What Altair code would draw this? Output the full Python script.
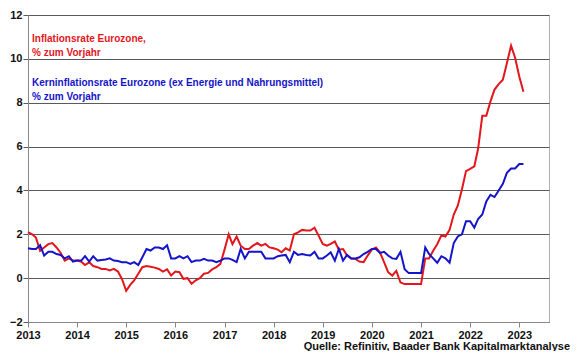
import altair as alt
import pandas as pd

# Monthly positions, Jan 2013 onwards (122 points)
n_points = 122
series_names = ["Inflationsrate Eurozone", "Kerninflationsrate Eurozone"]

headline = [
    2.1, 2.0, 1.85, 1.25, 1.4, 1.55, 1.6, 1.4, 1.15, 0.8, 0.9, 0.8, 0.8,
    0.75, 0.6, 0.72, 0.55, 0.5, 0.42, 0.42, 0.35, 0.42, 0.3, -0.05, -0.58,
    -0.3, -0.1, 0.2, 0.5, 0.55, 0.52, 0.48, 0.42, 0.3, 0.4, 0.12, 0.3,
    0.27, -0.03, 0.0, -0.26, -0.1, 0.0, 0.2, 0.24, 0.4, 0.5, 0.65, 1.3,
    2.0, 1.55, 1.9, 1.48, 1.33, 1.33, 1.48, 1.6, 1.48, 1.56, 1.4, 1.36,
    1.3, 1.18, 1.36, 1.26, 2.0, 2.09, 2.2, 2.17, 2.17, 2.3, 1.94, 1.56,
    1.48, 1.56, 1.67, 1.3, 1.33, 1.03, 0.9, 0.88, 0.76, 0.73, 1.03, 1.3,
    1.4, 1.18, 0.73, 0.27, 0.12, 0.33, -0.2, -0.27, -0.27, -0.27, -0.27, -0.27,
    0.9, 0.9, 1.25, 1.55, 1.95, 1.9, 2.2, 2.9, 3.3, 4.05, 4.88, 4.98,
    5.1, 5.9, 7.4, 7.4, 8.06, 8.6, 8.85, 9.05, 9.8, 10.6, 10.05, 9.2, 8.5,
]

core = [
    1.36, 1.33, 1.33, 1.5, 1.03, 1.2, 1.2, 1.1, 1.06,
    0.9, 1.0, 0.75, 0.8, 0.8, 1.0, 0.75, 1.0, 0.8, 0.83, 0.85, 0.9, 0.8,
    0.78, 0.73, 0.73, 0.65, 0.73, 0.6, 0.95,
    1.33, 1.26, 1.4, 1.4, 1.33, 1.5, 0.9, 0.9,
    1.0, 0.9, 1.0, 0.73, 0.8, 0.8, 0.88, 0.8, 0.8, 0.73, 0.8, 0.9,
    0.9, 0.83, 0.73, 1.33, 0.9, 1.2, 1.2, 1.2, 1.2, 0.9, 0.9, 0.9,
    1.0, 1.03, 1.06, 0.73, 1.2, 1.06, 1.1, 1.06, 1.03, 1.2, 0.9, 0.9,
    1.03, 1.18, 0.8, 1.33, 0.8, 1.06, 0.9, 0.9, 0.95, 1.1, 1.2, 1.33,
    1.33, 1.15, 1.2, 1.03, 0.9, 0.88, 1.2, 0.41, 0.23, 0.23, 0.23, 0.23,
    1.4, 1.1, 0.9, 0.7, 1.0, 0.9, 0.7, 1.6, 1.9, 2.0, 2.6, 2.6,
    2.3, 2.7, 2.9, 3.5, 3.8, 3.7, 4.0, 4.3, 4.8, 5.0, 5.0, 5.2, 5.2,
]

year_ticks = list(range(2013, 2024))
y_ticks = [-2, 0, 2, 4, 6, 8, 10, 12]

dates = pd.date_range("2013-01-01", periods=n_points, freq="MS").strftime("%Y-%m-%d").tolist()
df = pd.DataFrame({
    "date": dates + dates,
    "value": headline + core,
    "series": [series_names[0]] * n_points + [series_names[1]] * n_points,
})

FONT = "Liberation Sans"
RED = "#e3161c"
BLUE = "#1414c8"

lines = alt.Chart(df).mark_line(strokeWidth=2).encode(
    x=alt.X(
        "date:T",
        title=None,
        scale=alt.Scale(domain=[alt.DateTime(year=2013, month=1, date=1),
                                alt.DateTime(year=2023, month=8, date=10)]),
        axis=alt.Axis(
            values=[alt.DateTime(year=y, month=1, date=1) for y in year_ticks],
            format="%Y", grid=False, tickSize=5, labelPadding=2, labelFlush=False,
            domainColor="#888888", tickColor="#888888",
        ),
    ),
    y=alt.Y(
        "value:Q",
        title=None,
        scale=alt.Scale(domain=[-2, 12], nice=False, zero=False),
        axis=alt.Axis(values=y_ticks, grid=True, gridColor="#5a5a5a", gridWidth=1,
                      gridOpacity=1, tickSize=5, tickColor="#5a5a5a", labelPadding=1,
                      labelFlush=False, domainColor="#888888"),
    ),
    color=alt.Color("series:N", scale=alt.Scale(domain=series_names, range=[RED, BLUE]), legend=None),
    order=alt.Order("series:N", sort="descending"),
)


def label(txt, color, x, y, align="left", size=10, baseline="middle"):
    return alt.Chart(pd.DataFrame({"t": [txt]})).mark_text(
        font=FONT, fontSize=size, fontWeight="bold", color=color, align=align, baseline=baseline
    ).encode(text="t:N", x=alt.value(x), y=alt.value(y))


texts = [
    label("Inflationsrate Eurozone,", RED, 4, 24),
    label("% zum Vorjahr", RED, 4, 38),
    label("Kerninflationsrate Eurozone (ex Energie und Nahrungsmittel)", BLUE, 4, 68),
    label("% zum Vorjahr", BLUE, 4, 82),
    label("Quelle: Refinitiv, Baader Bank Kapitalmarktanalyse", "#111111", 542, 335,
          align="right", size=11, baseline="alphabetic"),
]

chart = alt.layer(lines, *texts).properties(
    width=521, height=307,
    padding={"left": 20, "top": 7, "right": 23, "bottom": 29},
    autosize=alt.AutoSizeParams(type="none"),
).configure_view(stroke="#b0b0b0").configure_axis(
    labelFont=FONT, labelFontSize=11, labelFontWeight="bold", labelColor="#111111",
)

chart.save("out.html", embed_options={"renderer": "svg", "actions": False})
